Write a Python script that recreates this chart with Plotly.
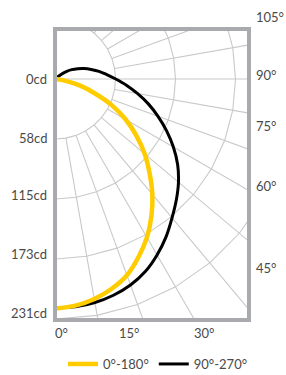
import numpy as np
import plotly.graph_objects as go

# ---- data (intensity in cd at angle in degrees, measured from nadir) ----
angles_c0 = [0, 5, 10, 15, 20, 25, 30, 35, 40, 45, 50, 55, 60, 65, 70, 75, 80, 85, 90]
cd_c0 = [221, 219, 215, 209, 201, 189, 176, 161, 145, 128, 112, 95, 78, 60, 40, 24, 9, 2, 0]

angles_c90 = [0, 5, 10, 15, 20, 25, 30, 35, 40, 45, 50, 55, 60, 65, 70, 75, 80, 85, 90,
              95, 100, 105, 110, 115, 120, 125, 130, 135, 140]
cd_c90 = [220, 220, 218.5, 215.5, 211, 204.5, 195.5, 185.5, 174.5, 164.5, 154.5, 143.5, 131,
          118, 105, 92.5, 80, 68.5, 58, 49.5, 42.5, 35.5, 29.5, 23.5, 18, 12, 6.5, 2.5, 0]

series_names = ["0°-180°", "90°-270°"]
series_colors = ["#FFCC00", "#000000"]

radial_ticks = [0, 58, 115, 173, 231]
grid_radii = [57.75, 115.5, 173.25, 231.0]
grid_angles = list(range(0, 181, 10))
angle_labels = [0, 15, 30, 45, 60, 75, 90, 105]

# ---- geometry ----
W, H = 286, 375
ml, mr, mt, mb = 55, 37, 29, 55
k = 60 / 57.75  # px per cd
cx_off, cy_off = 0.5, 50  # polar centre relative to plot-area left/top edge, px
x0 = -cx_off / k
x1 = (W - mr - ml - cx_off) / k
ytop = cy_off / k
ybot = -((H - mb - mt) - cy_off) / k


def to_xy(ang, r):
    a = np.radians(np.asarray(ang, dtype=float))
    r = np.asarray(r, dtype=float)
    return r * np.sin(a), -r * np.cos(a)


fig = go.Figure()

# grid: polygonal circles + radial lines
gx, gy = [], []
for R in grid_radii:
    x, y = to_xy(grid_angles, [R] * len(grid_angles))
    gx += list(x) + [None]
    gy += list(y) + [None]
for a in grid_angles[1:-1]:
    rs = [0 if a == 90 else grid_radii[0], 600]
    x, y = to_xy([a, a], rs)
    gx += list(x) + [None]
    gy += list(y) + [None]
fig.add_trace(go.Scatter(x=gx, y=gy, mode="lines", line=dict(color="#C9C9C9", width=1.1),
                         hoverinfo="skip", showlegend=False))

# curves (black first, yellow on top)
xb, yb = to_xy(angles_c90, cd_c90)
xy_, yy_ = to_xy(angles_c0, cd_c0)
fig.add_trace(go.Scatter(x=xb, y=yb, mode="lines", name=series_names[1],
                         line=dict(color=series_colors[1], width=3, shape="spline"),
                         legendrank=2))
fig.add_trace(go.Scatter(x=xy_, y=yy_, mode="lines", name=series_names[0],
                         line=dict(color=series_colors[0], width=4.5, shape="spline"),
                         legendrank=1))

font = dict(family="Lato, 'Noto Sans', sans-serif", size=13, color="#4A4A4A")
ann = []
for v in radial_ticks:
    ann.append(dict(x=0, xref="paper", y=-v * 0.974, yref="y", text=f"{v}cd",
                    xanchor="right", yanchor="middle", xshift=-6, showarrow=False, font=font))
for a in angle_labels:
    t = np.radians(a)
    if a < 45:
        xv = -ybot * np.tan(t)
        ann.append(dict(x=xv, xref="x", y=0, yref="paper", text=f"{a}°",
                        xanchor="left", yanchor="middle", xshift=-3, yshift=-13,
                        showarrow=False, font=font))
    else:
        yv = -x1 / np.tan(t) if a != 90 else 0.0
        if yv > ytop:
            ann.append(dict(x=1, xref="paper", y=1, yref="paper", text=f"{a}°",
                            xanchor="left", yanchor="bottom", xshift=5, yshift=2,
                            showarrow=False, font=font))
        else:
            ann.append(dict(x=1, xref="paper", y=yv, yref="y", text=f"{a}°",
                            xanchor="left", yanchor="middle", xshift=5, yshift=4.5,
                            showarrow=False, font=font))

plot_w = W - ml - mr
plot_h = H - mt - mb
fig.update_layout(
    width=W, height=H,
    margin=dict(l=ml, r=mr, t=mt, b=mb, autoexpand=False),
    paper_bgcolor="white", plot_bgcolor="white",
    xaxis=dict(range=[x0, x1], visible=False, fixedrange=True),
    yaxis=dict(range=[ybot, ytop], visible=False, fixedrange=True),
    shapes=[dict(type="rect", xref="paper", yref="paper", x0=0, x1=1, y0=0, y1=1,
                 line=dict(color="#A9AAAD", width=4), layer="above")],
    annotations=ann,
    legend=dict(orientation="h", x=103 / plot_w, xanchor="center", y=-44 / plot_h,
                yanchor="middle", font=font, itemwidth=30, tracegroupgap=0,
                bgcolor="rgba(0,0,0,0)", traceorder="normal"),
    showlegend=True,
    hovermode=False,
)

fig.write_html("out.html", config={"displayModeBar": False},
               post_script="document.body.style.margin='0px';")
